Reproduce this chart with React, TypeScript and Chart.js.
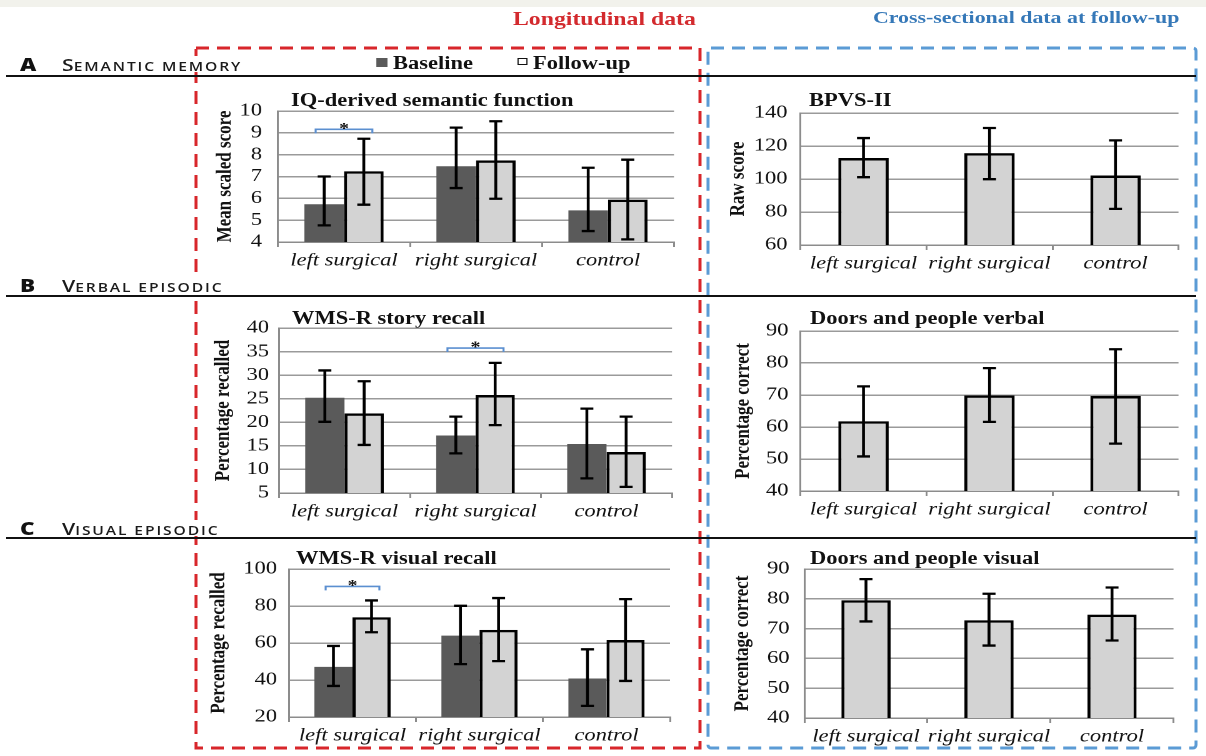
import React, { useEffect, useRef } from 'react';
import { Chart, registerables } from 'chart.js';
Chart.register(...registerables);

const S = 1.25; // horizontal stretch of the whole figure
const SERIF = '"Liberation Serif", "Times New Roman", serif';
const SANS = '"Open Sans", "Noto Sans", sans-serif';

const categories = ['left surgical', 'right surgical', 'control'];

// A left: IQ-derived semantic function
const iqBaseline = [5.73, 7.47, 5.45];
const iqBaselineLo = [4.76, 6.47, 4.5];
const iqBaselineHi = [7.0, 9.24, 7.4];
const iqFollowup = [7.24, 7.74, 5.94];
const iqFollowupLo = [5.71, 5.98, 4.12];
const iqFollowupHi = [8.73, 9.53, 7.77];
const iqAxis = [4, 10, 1];

// A right: BPVS-II
const bpvs = [112.7, 115.7, 102.1];
const bpvsLo = [101.1, 99.9, 81.9];
const bpvsHi = [124.8, 130.9, 123.4];
const bpvsAxis = [60, 140, 20];

// B left: WMS-R story recall
const storyBaseline = [25.2, 17.2, 15.4];
const storyBaselineLo = [20.1, 13.4, 8.1];
const storyBaselineHi = [31.0, 21.2, 22.9];
const storyFollowup = [21.9, 25.8, 13.7];
const storyFollowupLo = [15.2, 19.4, 6.3];
const storyFollowupHi = [28.7, 32.6, 21.2];
const storyAxis = [5, 40, 5];

// B right: Doors and people verbal
const dpVerbal = [61.8, 69.9, 69.7];
const dpVerbalLo = [50.8, 61.6, 54.8];
const dpVerbalHi = [72.7, 78.4, 84.3];
const dpVerbalAxis = [40, 90, 10];

// C left: WMS-R visual recall
const visBaseline = [47.1, 64.0, 40.8];
const visBaselineLo = [36.8, 48.6, 26.0];
const visBaselineHi = [58.4, 80.1, 56.6];
const visFollowup = [73.9, 67.1, 61.6];
const visFollowupLo = [65.8, 50.2, 39.5];
const visFollowupHi = [83.0, 84.3, 83.7];
const visAxis = [20, 100, 20];

// C right: Doors and people visual
const dpVisual = [79.5, 72.8, 74.7];
const dpVisualLo = [72.4, 64.3, 66.0];
const dpVisualHi = [86.6, 81.7, 83.8];
const dpVisualAxis = [40, 90, 10];

const BASE_COLOR = '#5a5a5a';
const FU_COLOR = '#d3d3d3';

const errorBarPlugin = {
  id: 'errbars',
  afterDatasetsDraw(chart: any, _args: any, opts: any) {
    const ctx = chart.ctx;
    const y = chart.scales.y;
    const cap = 5.2;
    chart.data.datasets.forEach((ds: any, i: number) => {
      const meta = chart.getDatasetMeta(i);
      meta.data.forEach((bar: any, j: number) => {
        const x = bar.x;
        const lo = y.getPixelForValue(ds.errLo[j]);
        const hi = y.getPixelForValue(ds.errHi[j]);
        ctx.save();
        ctx.strokeStyle = '#000';
        ctx.lineWidth = 2.3;
        ctx.beginPath();
        ctx.moveTo(x, lo); ctx.lineTo(x, hi);
        ctx.moveTo(x - cap, lo); ctx.lineTo(x + cap, lo);
        ctx.moveTo(x - cap, hi); ctx.lineTo(x + cap, hi);
        ctx.stroke();
        ctx.restore();
      });
    });
    if (opts && opts.sig) {
      const { index, value } = opts.sig;
      const b0 = chart.getDatasetMeta(0).data[index];
      const b1 = chart.getDatasetMeta(1).data[index];
      const inset = 9;
      const x1 = b0.x - b0.width / 2 + inset;
      const x2 = b1.x + b1.width / 2 - inset;
      const yy = y.getPixelForValue(value);
      ctx.save();
      ctx.strokeStyle = '#5b8fd0';
      ctx.lineWidth = 1.6;
      ctx.beginPath();
      ctx.moveTo(x1, yy + 4); ctx.lineTo(x1, yy); ctx.lineTo(x2, yy); ctx.lineTo(x2, yy + 4);
      ctx.stroke();
      ctx.fillStyle = '#111';
      ctx.font = `bold 16px ${SERIF}`;
      ctx.textAlign = 'center';
      ctx.textBaseline = 'alphabetic';
      ctx.fillText('*', (x1 + x2) / 2, yy + 4);
      ctx.restore();
    }
  },
};

type PanelCfg = {
  canvasLeft: number; canvasRight: number;
  axisX: number; plotRight: number; plotTop: number; plotBottom: number;
  yTitleX: number; tickGap: number; yTitle: string; axis: number[];
  datasets: any[]; catPct: number; sig?: { index: number; value: number };
};

const Y_TITLE_SIZE = 17;

function Panel({ cfg }: { cfg: PanelCfg }) {
  const ref = useRef<HTMLCanvasElement>(null);
  const top = Math.round(cfg.plotTop) - 14;
  const h = Math.round(cfg.plotBottom) - Math.round(cfg.plotTop) + 14 + 36;
  const w = Math.round((cfg.canvasRight - cfg.canvasLeft) / S);
  useEffect(() => {
    const yW = (cfg.axisX - cfg.canvasLeft) / S;
    const padR = (cfg.canvasRight - cfg.plotRight) / S;
    const titlePad = (cfg.yTitleX - cfg.canvasLeft) / S - (Y_TITLE_SIZE * 1.2) / 2;
    const chart = new Chart(ref.current as HTMLCanvasElement, {
      type: 'bar',
      data: {
        labels: categories,
        datasets: cfg.datasets.map((d) => ({
          ...d,
          categoryPercentage: cfg.catPct,
          barPercentage: 1,
        })),
      },
      options: {
        responsive: false,
        animation: false,
        devicePixelRatio: 2,
        layout: { padding: { top: 14, right: padR, left: 0, bottom: 0 } },
        plugins: {
          legend: { display: false },
          tooltip: { enabled: false },
          title: { display: false },
          errbars: { sig: cfg.sig },
        } as any,
        scales: {
          x: {
            grid: { display: true, drawOnChartArea: false, drawTicks: true, tickLength: 5, color: '#8c8c8c', lineWidth: 1.5, offset: true },
            border: { display: true, color: '#8c8c8c', width: 1.5 },
            ticks: { font: { family: SERIF, size: 18, style: 'italic' }, color: '#111', padding: 3, maxRotation: 0, autoSkip: false },
            afterFit: (s: any) => { s.height = 36; s.paddingLeft = 0; s.paddingRight = 0; },
          },
          y: {
            min: cfg.axis[0],
            max: cfg.axis[1],
            ticks: { stepSize: cfg.axis[2], autoSkip: false, maxTicksLimit: 30, font: { family: SERIF, size: 18 }, color: '#111', padding: cfg.tickGap / S },
            grid: { color: '#9a9a9a', lineWidth: 1.5, drawTicks: false },
            border: { display: true, color: '#8c8c8c', width: 1.5 },
            title: { display: true, text: cfg.yTitle, font: { family: SERIF, size: Y_TITLE_SIZE, weight: 'bold' }, color: '#111', padding: { top: titlePad, bottom: 0 } },
            afterFit: (s: any) => { s.width = yW; s.paddingTop = 8; s.paddingBottom = 8; },
          },
        },
      } as any,
      plugins: [errorBarPlugin],
    });
    return () => chart.destroy();
  }, []);
  return (
    <canvas
      ref={ref}
      width={w}
      height={h}
      style={{ position: 'absolute', left: cfg.canvasLeft / S, top, width: w, height: h }}
    />
  );
}

const pair = (b: number[], bl: number[], bh: number[], f: number[], fl: number[], fh: number[]) => [
  { label: 'Baseline', data: b, errLo: bl, errHi: bh, backgroundColor: BASE_COLOR, borderWidth: 0 },
  { label: 'Follow-up', data: f, errLo: fl, errHi: fh, backgroundColor: FU_COLOR, borderColor: '#000', borderWidth: 2.5 },
];
const single = (v: number[], lo: number[], hi: number[]) => [
  { label: 'Follow-up', data: v, errLo: lo, errHi: hi, backgroundColor: FU_COLOR, borderColor: '#000', borderWidth: 2.5 },
];

const L = { canvasLeft: 200, canvasRight: 690 };
const R = { canvasLeft: 712, canvasRight: 1192 };

const panels: PanelCfg[] = [
  { ...L, axisX: 278, plotRight: 674, plotTop: 110.7, plotBottom: 241.7, yTitleX: 225, tickGap: 16, yTitle: 'Mean scaled score', axis: iqAxis,
    datasets: pair(iqBaseline, iqBaselineLo, iqBaselineHi, iqFollowup, iqFollowupLo, iqFollowupHi), catPct: 0.6, sig: { index: 0, value: 9.16 } },
  { ...R, axisX: 800, plotRight: 1178, plotTop: 113.3, plotBottom: 245, yTitleX: 738, tickGap: 13, yTitle: 'Raw score', axis: bpvsAxis,
    datasets: single(bpvs, bpvsLo, bpvsHi), catPct: 0.4 },
  { ...L, axisX: 279, plotRight: 672, plotTop: 328.3, plotBottom: 492.7, yTitleX: 223, tickGap: 10, yTitle: 'Percentage recalled', axis: storyAxis,
    datasets: pair(storyBaseline, storyBaselineLo, storyBaselineHi, storyFollowup, storyFollowupLo, storyFollowupHi), catPct: 0.6, sig: { index: 1, value: 35.75 } },
  { ...R, axisX: 800, plotRight: 1178, plotTop: 330.7, plotBottom: 490.7, yTitleX: 743, tickGap: 12, yTitle: 'Percentage correct', axis: dpVerbalAxis,
    datasets: single(dpVerbal, dpVerbalLo, dpVerbalHi), catPct: 0.4 },
  { ...L, axisX: 289, plotRight: 670, plotTop: 569.3, plotBottom: 716.7, yTitleX: 219, tickGap: 12, yTitle: 'Percentage recalled', axis: visAxis,
    datasets: pair(visBaseline, visBaselineLo, visBaselineHi, visFollowup, visFollowupLo, visFollowupHi), catPct: 0.6, sig: { index: 0, value: 90.6 } },
  { ...R, axisX: 804, plotRight: 1173, plotTop: 569.3, plotBottom: 718.3, yTitleX: 742, tickGap: 15, yTitle: 'Percentage correct', axis: dpVisualAxis,
    datasets: single(dpVisual, dpVisualLo, dpVisualHi), catPct: 0.4 },
];

function T({ x, y, size, children, style }: any) {
  return (
    <div style={{ position: 'absolute', left: x / S, top: y - size / 2, fontSize: size, lineHeight: `${size}px`, whiteSpace: 'nowrap', ...style }}>
      {children}
    </div>
  );
}

// text placed by its baseline (Open Sans metrics); box ends 1px under the baseline
function B({ x, base, size, children, style }: any) {
  const top = base - 0.888 * size;
  return (
    <div style={{ position: 'absolute', left: x / S, top, height: base - top + 1, overflow: 'visible', fontSize: size, lineHeight: `${size}px`, whiteSpace: 'nowrap', ...style }}>
      {children}
    </div>
  );
}

function Section({ base, letter, first, rest }: any) {
  return (
    <>
      <B x={20} base={base} size={18} style={{ fontFamily: SANS, fontWeight: 800, color: '#111' }}>{letter}</B>
      <B x={62} base={base} size={17} style={{ fontFamily: SANS, fontWeight: 600, color: '#1a1a1a', background: '#fff', paddingRight: 2 }}>
        {first}
        <span style={{ fontSize: 12.5, lineHeight: '12px', letterSpacing: 1.5 }}>{rest}</span>
      </B>
    </>
  );
}

const titleStyle = { fontFamily: SERIF, fontWeight: 'bold', color: '#111' };

export default function App() {
  return (
    <div style={{ position: 'absolute', left: 0, top: 0, width: 1206, height: 756, background: '#fff', overflow: 'hidden' }}>
      <div style={{ position: 'absolute', left: 0, top: 0, width: 1206, height: 7, background: '#f2f2ec' }} />
      <svg width={1206} height={756} style={{ position: 'absolute', left: 0, top: 0 }}>
        <rect x={196} y={48} width={504} height={700} fill="none" stroke="#d8262b" strokeWidth={3} strokeDasharray="13 8" />
        <rect x={708} y={48} width={488} height={700} rx={3} fill="none" stroke="#5b9bd5" strokeWidth={3} strokeDasharray="13 8" />
      </svg>
      <div style={{ position: 'absolute', left: 0, top: 0, width: 1206 / S, height: 756, transform: `scaleX(${S})`, transformOrigin: '0 0' }}>
        <T x={513} y={18} size={19} style={{ ...titleStyle, color: '#d32a2e' }}>Longitudinal data</T>
        <T x={873} y={18} size={17.5} style={{ ...titleStyle, color: '#3578b8' }}>Cross-sectional data at follow-up</T>

        <Section base={71} letter="A" first="S" rest="EMANTIC MEMORY" />
        <Section base={292} letter="B" first="V" rest="ERBAL EPISODIC" />
        <Section base={535} letter="C" first="V" rest="ISUAL EPISODIC" />

        <div style={{ position: 'absolute', left: 376 / S, top: 58, width: 11 / S, height: 9, background: BASE_COLOR }} />
        <T x={393} y={63} size={18} style={titleStyle}>Baseline</T>
        <div style={{ position: 'absolute', left: 518 / S, top: 58, width: 11 / S - 3.6, height: 9 - 3.6, border: '1.8px solid #111', background: '#fff' }} />
        <T x={533} y={63} size={18} style={titleStyle}>Follow-up</T>

        <T x={291} y={100} size={18} style={titleStyle}>IQ-derived semantic function</T>
        <T x={809} y={100} size={18} style={titleStyle}>BPVS-II</T>
        <T x={292} y={318} size={18} style={titleStyle}>WMS-R story recall</T>
        <T x={810} y={318} size={18} style={titleStyle}>Doors and people verbal</T>
        <T x={296} y={558} size={18} style={titleStyle}>WMS-R visual recall</T>
        <T x={810} y={558} size={18} style={titleStyle}>Doors and people visual</T>

        {panels.map((p, i) => (
          <Panel key={i} cfg={p} />
        ))}
      </div>
      <svg width={1206} height={756} style={{ position: 'absolute', left: 0, top: 0, pointerEvents: 'none' }}>
        <line x1={6} y1={76} x2={1196} y2={76} stroke="#111" strokeWidth={2} />
        <line x1={6} y1={296} x2={1196} y2={296} stroke="#111" strokeWidth={2} />
        <line x1={6} y1={538} x2={1196} y2={538} stroke="#111" strokeWidth={2} />
      </svg>
    </div>
  );
}
